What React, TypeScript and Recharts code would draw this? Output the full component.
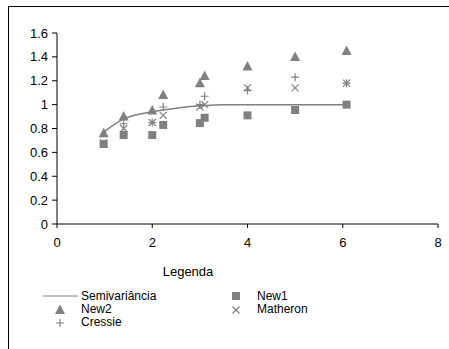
import { ComposedChart, Line, Scatter, XAxis, YAxis } from "recharts";

const semiX = [0.98, 1.4, 2.0, 2.5, 3.0, 3.5, 4.0, 5.0, 6.08];
const semiY = [0.77, 0.88, 0.94, 0.97, 0.99, 1.0, 1.0, 1.0, 1.0];

const lagX = [0.98, 1.4, 2.0, 2.23, 3.0, 3.1, 4.0, 5.0, 6.08];
const new1 = [0.67, 0.745, 0.745, 0.83, 0.845, 0.89, 0.91, 0.955, 1.0];
const new2 = [0.76, 0.9, 0.95, 1.08, 1.18, 1.24, 1.32, 1.4, 1.45];
const matheron = [0.68, 0.8, 0.85, 0.91, 0.98, 1.0, 1.14, 1.14, 1.18];
const cressie = [0.67, 0.84, 0.85, 0.98, 1.0, 1.07, 1.12, 1.23, 1.18];

const xTicks = [0, 2, 4, 6, 8];
const yTicks = [0, 0.2, 0.4, 0.6, 0.8, 1, 1.2, 1.4, 1.6];

const GRAY = "#808080";
const FONT = "'Liberation Sans', Arial, sans-serif";

const toPoints = (xs: number[], ys: number[]) => xs.map((x, i) => ({ x, y: ys[i] }));

const semiData = toPoints(semiX, semiY);
const new1Data = toPoints(lagX, new1);
const new2Data = toPoints(lagX, new2);
const matheronData = toPoints(lagX, matheron);
const cressieData = toPoints(lagX, cressie);

const Square = (p: any) => (
  <rect x={p.cx - 4} y={p.cy - 4} width={8} height={8} fill={GRAY} />
);
const Triangle = (p: any) => (
  <path d={`M${p.cx},${p.cy - 5.5} L${p.cx + 5},${p.cy + 4} L${p.cx - 5},${p.cy + 4} Z`} fill={GRAY} />
);
const Cross = (p: any) => (
  <path
    d={`M${p.cx - 3.5},${p.cy - 3.5} L${p.cx + 3.5},${p.cy + 3.5} M${p.cx + 3.5},${p.cy - 3.5} L${p.cx - 3.5},${p.cy + 3.5}`}
    stroke={GRAY}
    strokeWidth={1.2}
    fill="none"
  />
);
const Plus = (p: any) => (
  <path
    d={`M${p.cx - 4},${p.cy} L${p.cx + 4},${p.cy} M${p.cx},${p.cy - 4} L${p.cx},${p.cy + 4}`}
    stroke={GRAY}
    strokeWidth={1.2}
    fill="none"
  />
);

function ChartLegend() {
  const text = { fontSize: 12, fill: "#000", fontFamily: FONT };
  return (
    <svg width={449} height={50} style={{ display: "block" }}>
      <line x1={43} x2={78} y1={8} y2={8} stroke={GRAY} strokeWidth={1} />
      <text x={81} y={12} {...text}>Semivariância</text>
      <Triangle cx={60} cy={22} />
      <text x={81} y={25} {...text}>New2</text>
      <Plus cx={60} cy={35} />
      <text x={81} y={38} {...text}>Cressie</text>
      <Square cx={236} cy={8} />
      <text x={257} y={12} {...text}>New1</text>
      <Cross cx={236} cy={22} />
      <text x={257} y={25} {...text}>Matheron</text>
    </svg>
  );
}

export default function App() {
  return (
    <div style={{ position: "absolute", left: 0, top: 0, width: 449, height: 349, background: "#fff", overflow: "hidden" }}>
      <div
        style={{
          position: "absolute",
          left: 8,
          top: 6,
          width: 460,
          height: 360,
          borderLeft: "1px solid #000",
          borderTop: "1px solid #000",
        }}
      />
      <div style={{ position: "absolute", left: 0, top: 0 }}>
        <ComposedChart width={449} height={349} margin={{ top: 33, right: 11, left: 17, bottom: 105 }}>
          <XAxis
            type="number"
            dataKey="x"
            domain={[0, 8]}
            ticks={xTicks}
            interval={0}
            tickSize={4}
            tickMargin={10}
            stroke="#000"
            tick={{ fill: "#000", fontSize: 13, fontFamily: FONT }}
            height={20}
            allowDataOverflow
            label={() => (
              <text x={188} y={276} textAnchor="middle" fontSize={13} fontFamily={FONT} fill="#000">
                Legenda
              </text>
            )}
          />
          <YAxis
            type="number"
            dataKey="y"
            domain={[0, 1.6]}
            ticks={yTicks}
            interval={0}
            tickSize={5}
            tickMargin={4}
            width={40}
            stroke="#000"
            tick={{ fill: "#000", fontSize: 13, fontFamily: FONT }}
            tickFormatter={(v: number) => String(v)}
            allowDataOverflow
          />
          <Line
            data={semiData}
            dataKey="y"
            type="monotone"
            stroke={GRAY}
            strokeWidth={1.5}
            dot={false}
            isAnimationActive={false}
          />
          <Scatter data={new1Data} dataKey="y" shape={Square} isAnimationActive={false} />
          <Scatter data={new2Data} dataKey="y" shape={Triangle} isAnimationActive={false} />
          <Scatter data={matheronData} dataKey="y" shape={Cross} isAnimationActive={false} />
          <Scatter data={cressieData} dataKey="y" shape={Plus} isAnimationActive={false} />
        </ComposedChart>
      </div>
      <div style={{ position: "absolute", left: 0, top: 288 }}>
        <ChartLegend />
      </div>
    </div>
  );
}
